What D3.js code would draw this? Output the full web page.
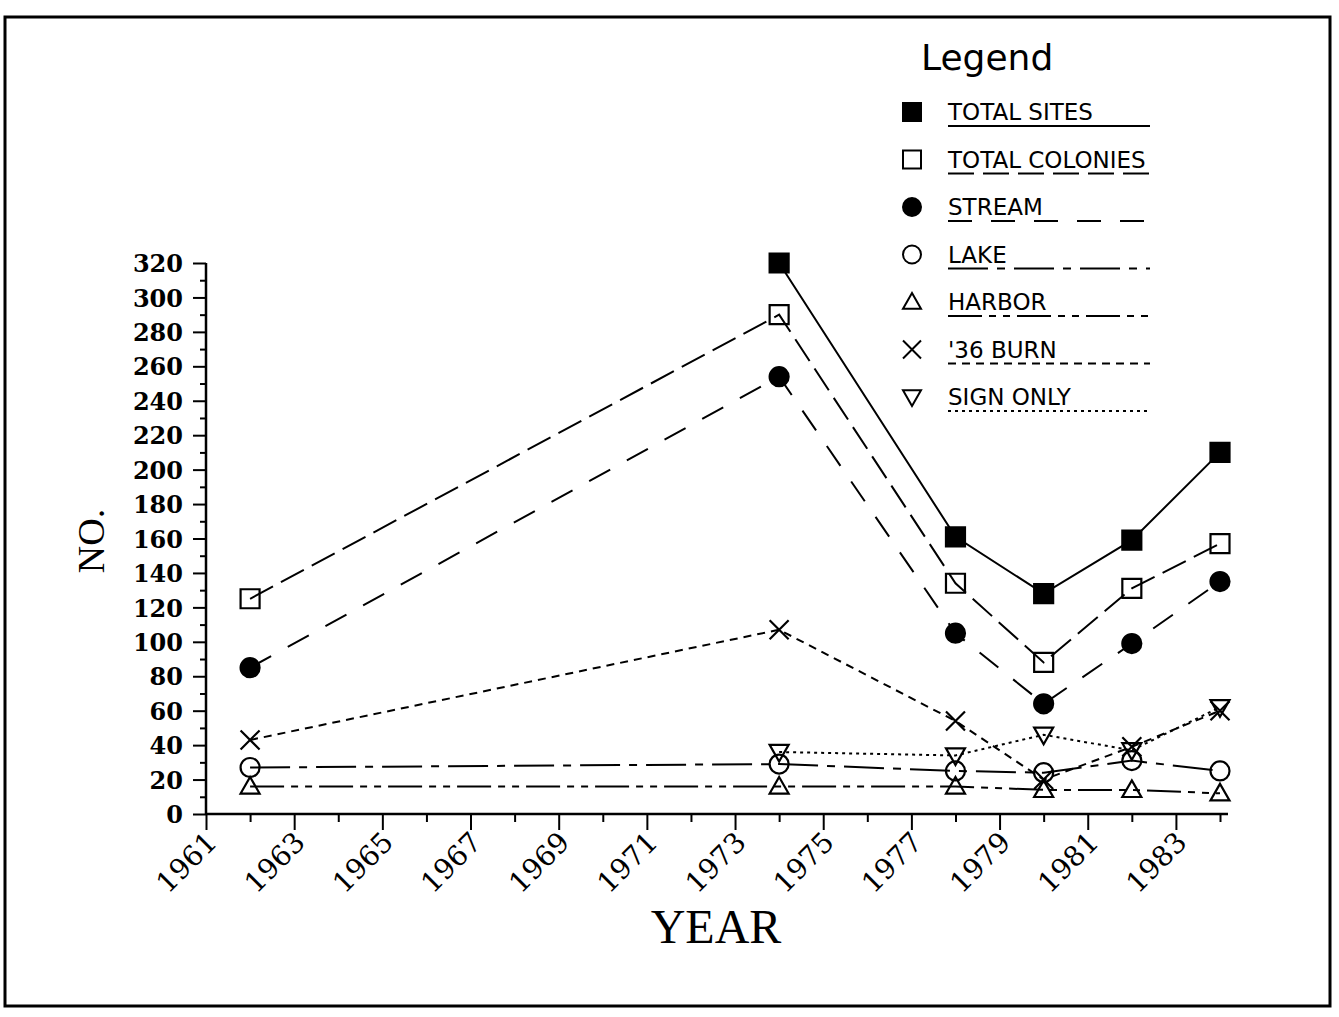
<!DOCTYPE html>
<html>
<head>
<meta charset="utf-8">
<script src="https://cdn.jsdelivr.net/npm/d3@7"></script>
<style>
  body { margin: 0; background: #fff; }
  svg { display: block; }
</style>
</head>
<body>
<div id="chart"></div>
<script>
// data
const years = [1962, 1974, 1978, 1980, 1982, 1984];
const totalSites = [null, 320, 161, 128, 159, 210];
const totalColonies = [125, 290, 134, 88, 131, 157];
const stream = [85, 254, 105, 64, 99, 135];
const lake = [27, 29, 25, 24, 31, 25];
const harbor = [16, 16, 16, 14, 14, 12];
const burn36 = [43, 107, 54, 20, 39, 60];
const signOnly = [null, 36, 34, 46, 37, 62];

const seriesNames = ["TOTAL SITES", "TOTAL COLONIES", "STREAM", "LAKE", "HARBOR", "'36 BURN", "SIGN ONLY"];
const yTicks = d3.range(0, 321, 20);
const xTicks = d3.range(1961, 1984, 2);

// setting up constants
const FRAME_WIDTH = 1339;
const FRAME_HEIGHT = 1017;
const AXIS = {left: 206, right: 1220, top: 263, bottom: 814};

const series = [
  {name: seriesNames[0], values: totalSites, shape: "square", fill: true, dash: null},
  {name: seriesNames[1], values: totalColonies, shape: "square", fill: false, dash: "26,9"},
  {name: seriesNames[2], values: stream, shape: "circle", fill: true, dash: "24,19"},
  {name: seriesNames[3], values: lake, shape: "circle", fill: false, dash: "40,9,8,9"},
  {name: seriesNames[4], values: harbor, shape: "triangle", fill: false, dash: "34,7,7,7,7,7"},
  {name: seriesNames[5], values: burn36, shape: "x", fill: false, dash: "8,6"},
  {name: seriesNames[6], values: signOnly, shape: "down", fill: false, dash: "3,4"}
];

const svg = d3.select('#chart')
  .append('svg')
  .attr('width', FRAME_WIDTH)
  .attr('height', FRAME_HEIGHT);

// outer frame
svg.append('rect')
  .attr('x', 5).attr('y', 17)
  .attr('width', 1325).attr('height', 989)
  .attr('fill', 'none')
  .attr('stroke', '#000')
  .attr('stroke-width', 3);

const x = d3.scaleLinear().domain([1961, 1984]).range([AXIS.left, AXIS.right]);
const y = d3.scaleLinear().domain([0, 320]).range([AXIS.bottom, AXIS.top]);

const tickFont = "'DejaVu Serif', serif";

// Y axis, major + minor ticks
const yAxis = svg.append('g')
  .attr('transform', `translate(${AXIS.left},0)`)
  .call(d3.axisLeft(y).tickValues(yTicks).tickSize(13).tickSizeOuter(0).tickPadding(10));
yAxis.select('.domain').remove();
yAxis.selectAll('line').attr('stroke-width', 2);
yAxis.selectAll('text')
  .attr('font-family', tickFont)
  .attr('font-weight', 'bold')
  .attr('font-size', 24)
  .attr('dy', '0.36em');

const yMinor = svg.append('g')
  .attr('transform', `translate(${AXIS.left},0)`)
  .call(d3.axisLeft(y).tickValues(d3.range(10, 320, 20)).tickSize(6).tickFormat(''));
yMinor.select('.domain').remove();
yMinor.selectAll('line').attr('stroke-width', 2);

svg.append('line')
  .attr('x1', AXIS.left).attr('x2', AXIS.left)
  .attr('y1', y(0)).attr('y2', y(320))
  .attr('stroke', '#000').attr('stroke-width', 2.5);

// X axis
const xAxis = svg.append('g')
  .attr('transform', `translate(0,${AXIS.bottom})`)
  .call(d3.axisBottom(x).tickValues(xTicks).tickSize(16).tickSizeOuter(0).tickFormat(d3.format('d')));
xAxis.select('.domain').remove();
xAxis.selectAll('line').attr('stroke-width', 2);
xAxis.selectAll('text')
  .attr('font-family', tickFont)
  .attr('font-size', 28)
  .attr('text-anchor', 'end')
  .attr('y', 0).attr('dy', 0)
  .attr('transform', 'translate(12,30) rotate(-45)');

const xMinor = svg.append('g')
  .attr('transform', `translate(0,${AXIS.bottom})`)
  .call(d3.axisBottom(x).tickValues(d3.range(1962, 1985, 2)).tickSize(8).tickFormat(''));
xMinor.select('.domain').remove();
xMinor.selectAll('line').attr('stroke-width', 2);

svg.append('line')
  .attr('x1', AXIS.left).attr('x2', AXIS.right + 8)
  .attr('y1', AXIS.bottom).attr('y2', AXIS.bottom)
  .attr('stroke', '#000').attr('stroke-width', 2.5);

// axis titles
svg.append('text')
  .attr('x', 716).attr('y', 943)
  .attr('text-anchor', 'middle')
  .attr('font-family', "'Liberation Serif', serif")
  .attr('font-size', 48)
  .text('YEAR');

svg.append('text')
  .attr('transform', 'translate(104,541) rotate(-90)')
  .attr('text-anchor', 'middle')
  .attr('font-family', "'Liberation Serif', serif")
  .attr('font-size', 38)
  .text('NO.');

// marker shapes
function markerPath(shape, s) {
  const p = d3.path();
  const h = s / 2;
  if (shape === 'square') {
    p.rect(-h, -h, s, s);
  } else if (shape === 'circle') {
    p.arc(0, 0, h, 0, 2 * Math.PI);
  } else if (shape === 'triangle') {
    p.moveTo(0, -h); p.lineTo(h, h * 0.75); p.lineTo(-h, h * 0.75); p.closePath();
  } else if (shape === 'down') {
    p.moveTo(0, h); p.lineTo(h, -h * 0.75); p.lineTo(-h, -h * 0.75); p.closePath();
  } else if (shape === 'x') {
    p.moveTo(-h, -h); p.lineTo(h, h); p.moveTo(h, -h); p.lineTo(-h, h);
  }
  return p.toString();
}

const line = d3.line()
  .defined(d => d.v !== null)
  .x(d => x(d.year))
  .y(d => y(d.v));

series.forEach(function(s) {
  const pts = years.map((yr, i) => ({year: yr, v: s.values[i]}));
  svg.append('path')
    .datum(pts)
    .attr('fill', 'none')
    .attr('stroke', '#000')
    .attr('stroke-width', 2)
    .attr('stroke-dasharray', s.dash)
    .attr('d', line);

  svg.selectAll(null)
    .data(pts.filter(d => d.v !== null))
    .enter()
    .append('path')
    .attr('transform', d => `translate(${x(d.year)},${y(d.v)})`)
    .attr('d', markerPath(s.shape, 19))
    .attr('fill', s.fill ? '#000' : 'none')
    .attr('stroke', '#000')
    .attr('stroke-width', 2.2);
});

// legend
const legend = svg.append('g');
legend.append('text')
  .attr('x', 921).attr('y', 70)
  .attr('font-family', "'DejaVu Sans', sans-serif")
  .attr('font-size', 36)
  .text('Legend');

const rowY = d3.scalePoint().domain(seriesNames).range([112, 397]);

series.forEach(function(s) {
  const cy = rowY(s.name);
  legend.append('path')
    .attr('transform', `translate(912,${cy})`)
    .attr('d', markerPath(s.shape, 18))
    .attr('fill', s.fill ? '#000' : 'none')
    .attr('stroke', '#000')
    .attr('stroke-width', 2);
  legend.append('text')
    .attr('x', 948).attr('y', cy + 8)
    .attr('font-family', "'DejaVu Sans', sans-serif")
    .attr('font-size', 23)
    .text(s.name);
  legend.append('line')
    .attr('x1', 948).attr('x2', 1150)
    .attr('y1', cy + 14).attr('y2', cy + 14)
    .attr('stroke', '#000')
    .attr('stroke-width', 2)
    .attr('stroke-dasharray', s.dash);
});
</script>
</body>
</html>
